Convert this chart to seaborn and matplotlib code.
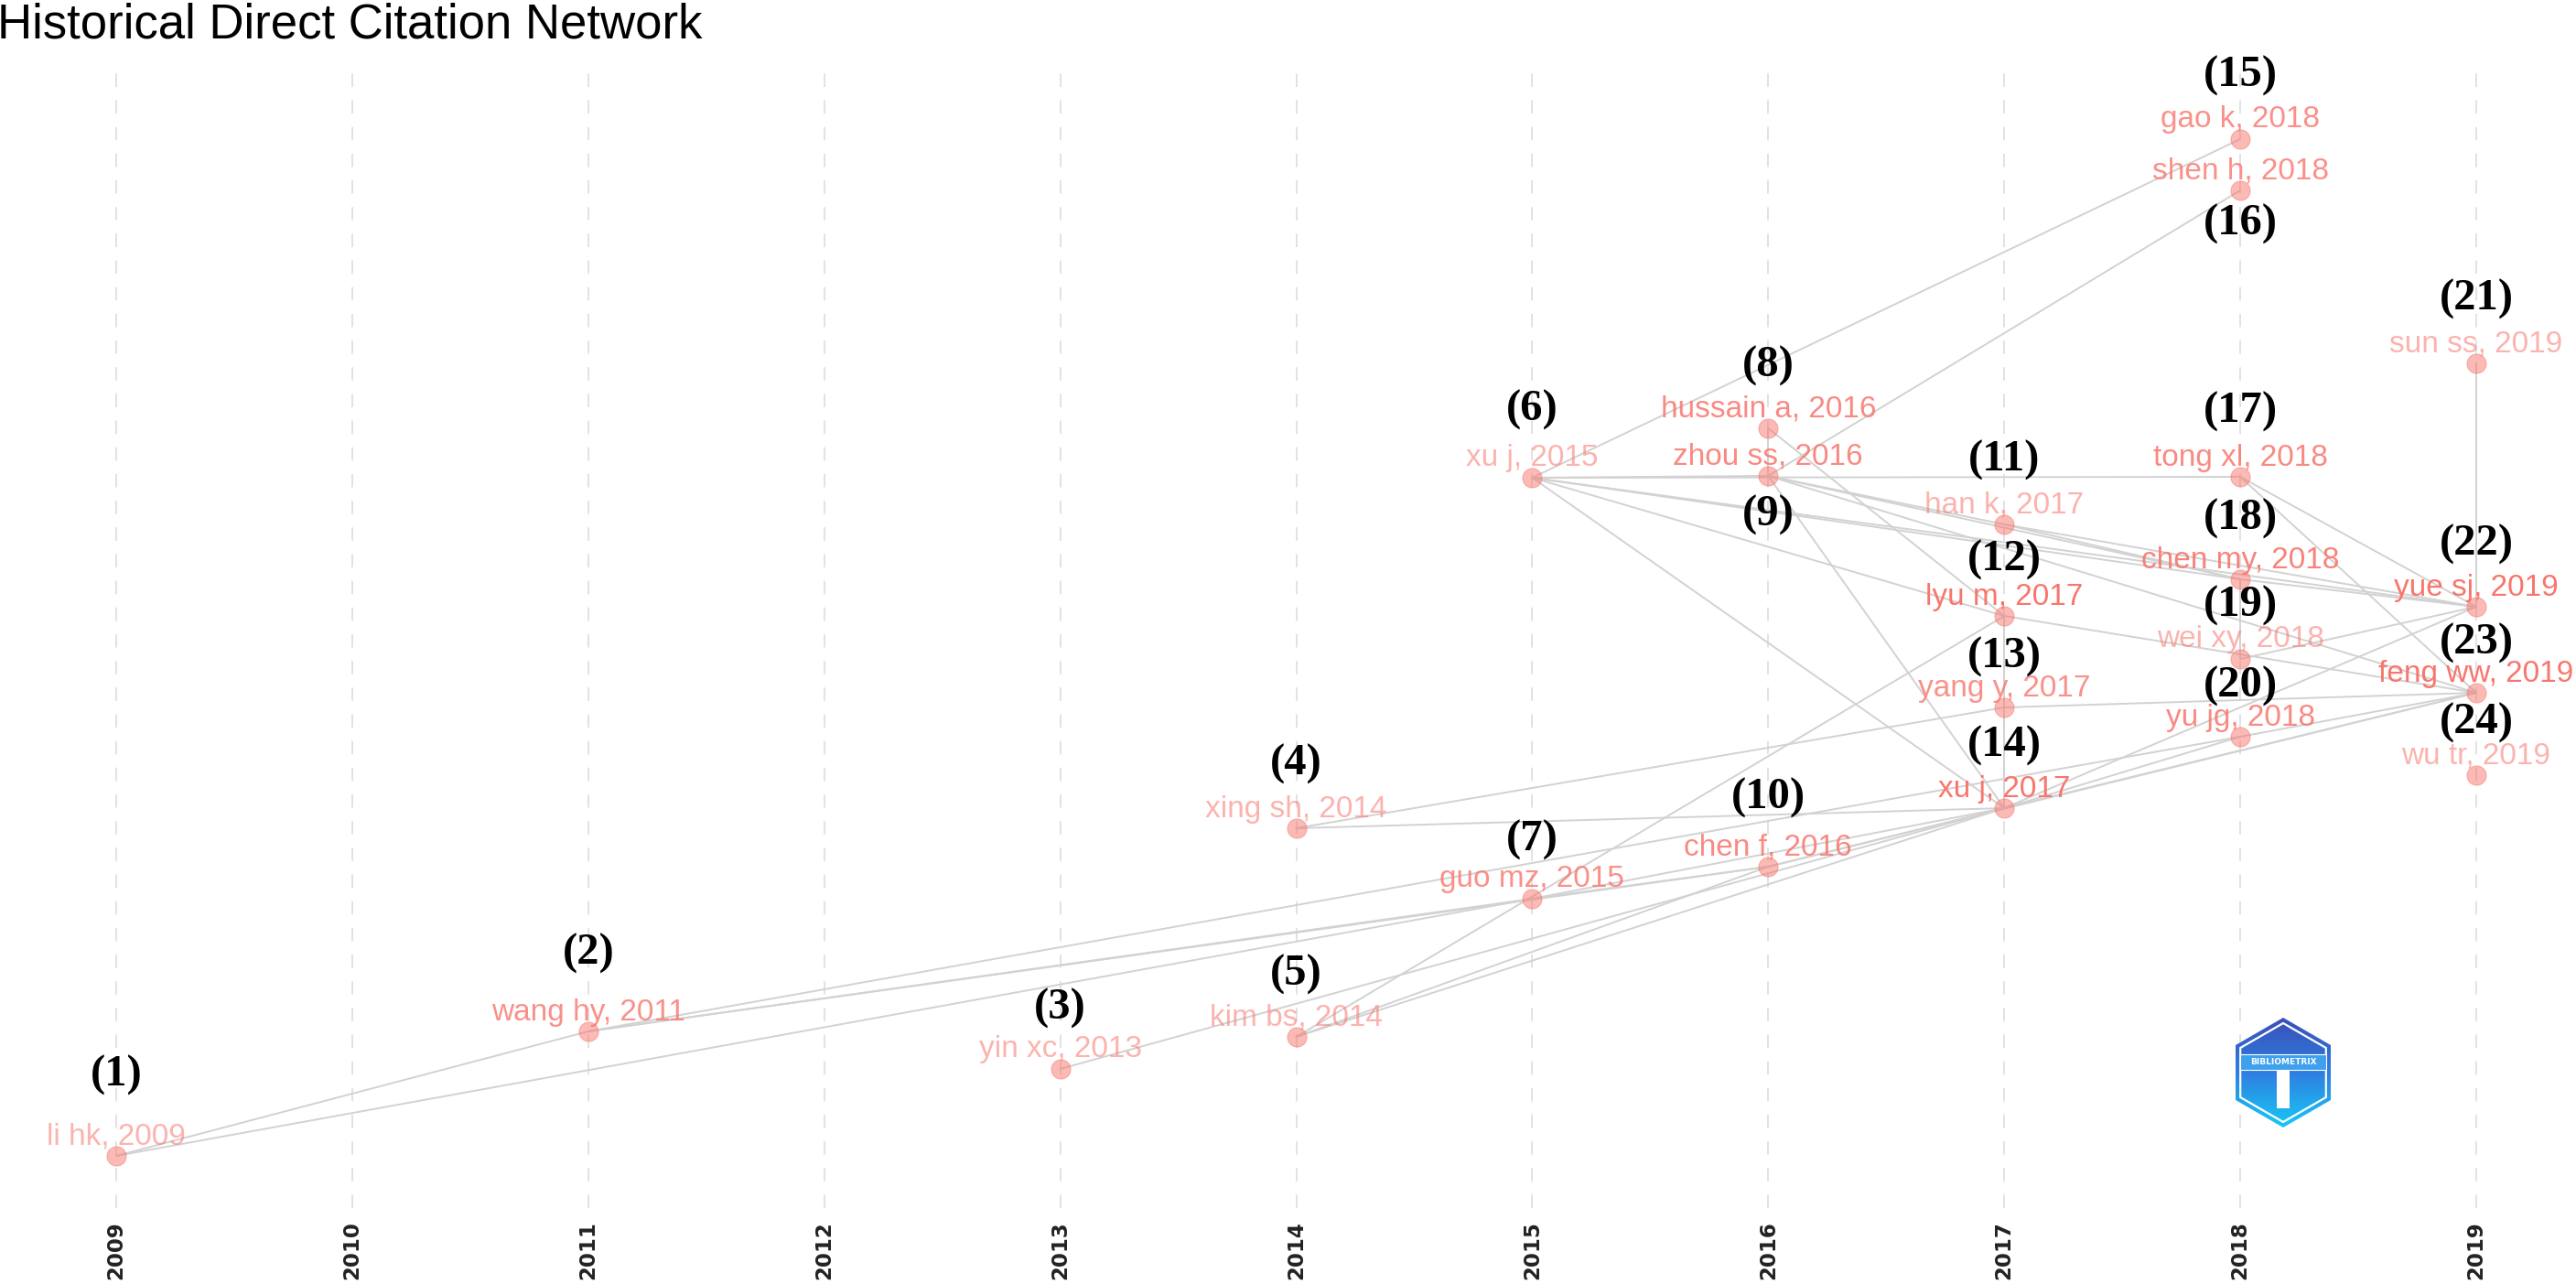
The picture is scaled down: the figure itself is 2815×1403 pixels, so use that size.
import numpy as np
import pandas as pd
import matplotlib
matplotlib.use('Agg')
import matplotlib.pyplot as plt
from matplotlib.colors import LinearSegmentedColormap
from matplotlib.patches import RegularPolygon
import seaborn as sns

authors = ['li hk', 'wang hy', 'yin xc', 'xing sh', 'kim bs', 'xu j', 'guo mz',
           'hussain a', 'zhou ss', 'chen f', 'han k', 'lyu m', 'yang y', 'xu j',
           'gao k', 'shen h', 'tong xl', 'chen my', 'wei xy', 'yu jg',
           'sun ss', 'yue sj', 'feng ww', 'wu tr']
years = [2009, 2011, 2013, 2014, 2014, 2015, 2015, 2016, 2016, 2016,
         2017, 2017, 2017, 2017, 2018, 2018, 2018, 2018, 2018, 2018,
         2019, 2019, 2019, 2019]
# vertical layout position of each paper (grows downwards)
layout_y = [1263, 1127, 1168, 905, 1133, 522, 982, 468, 520, 947,
            573, 673, 773, 883, 152, 208, 521, 633, 720, 805,
            397, 663, 757, 847]
# where the "(n)" tags were placed by the label repel
number_y = [1175, 1042, 1102, 835, 1065, 448, 918, 400, 563, 872,
            503, 612, 718, 815, 83, 245, 450, 567, 662, 750,
            327, 595, 703, 790]
label_alpha = [0.55, 0.8, 0.55, 0.55, 0.55, 0.55, 0.8, 0.85, 0.85, 0.85,
               0.55, 1.0, 0.8, 1.0, 0.8, 0.8, 0.85, 0.9, 0.55, 0.85,
               0.55, 1.0, 1.0, 0.55]
# citation links (1-based node numbers)
edge_from = [1, 1, 2, 2, 2, 3, 4, 4, 5, 5, 5, 6, 6, 6, 6, 6, 6, 6,
             7, 7, 8, 8, 9, 9, 9, 9, 9, 10, 10, 11, 11, 12, 12, 13, 13,
             14, 14, 14, 17, 17, 18, 18, 19, 20, 21]
edge_to = [2, 7, 10, 7, 20, 14, 13, 14, 10, 12, 14, 12, 14, 15, 17, 18, 22, 9,
           10, 14, 9, 12, 11, 14, 16, 18, 23, 14, 23, 18, 22, 13, 23, 14, 23,
           20, 22, 23, 22, 23, 19, 22, 22, 23, 22]
year_ticks = list(range(2009, 2020))

nodes = pd.DataFrame({'year': years, 'y': layout_y})
rows = []
for k, (a, b) in enumerate(zip(edge_from, edge_to)):
    rows.append({'edge': k, 'year': years[a - 1], 'y': layout_y[a - 1]})
    rows.append({'edge': k, 'year': years[b - 1], 'y': layout_y[b - 1]})
edges = pd.DataFrame(rows)

sns.set_theme(style='white')
plt.rcParams['font.family'] = ['Liberation Sans', 'DejaVu Sans']

W, H = 2815, 1403
fig = plt.figure(figsize=(W / 100, H / 100), dpi=100)
ax = fig.add_axes([0, 1 - 1320 / H, 1, (1320 - 72) / H])

ax.set_xlim(2009 - 127 / 257.9, 2019 + 109 / 257.9)
ax.set_ylim(1320, 72)

ax.set_xticks(year_ticks)
ax.set_xticklabels([str(y) for y in year_ticks], rotation=90, fontweight='bold',
                   fontsize=16.5, family='DejaVu Sans', color='#222222')
ax.tick_params(axis='x', length=0, pad=10)
ax.set_yticks([])
ax.xaxis.grid(True, color='#e2e2e2', linewidth=1.4, linestyle=(0, (7.5, 7.5)))
ax.yaxis.grid(False)
for s in ax.spines.values():
    s.set_visible(False)
ax.set_axisbelow(True)

sns.lineplot(data=edges, x='year', y='y', units='edge', estimator=None, sort=False,
             color='#d2d2d2', linewidth=1.4, ax=ax, legend=False)
sns.scatterplot(data=nodes, x='year', y='y', color='#F8766D', alpha=0.5, s=230,
                edgecolor='#F8766D', linewidth=0.8, ax=ax, legend=False, zorder=3)

for i in range(len(authors)):
    ax.text(years[i], layout_y[i] - 21, f'{authors[i]}, {years[i]}', color='#F8766D',
            alpha=label_alpha[i], fontsize=24, ha='center', va='center', zorder=4)
    ax.text(years[i], number_y[i], f'({i + 1})', color='black', fontsize=35,
            family='Liberation Serif', fontweight='bold', ha='center', va='center', zorder=4)

ax.set_xlabel('')
ax.set_ylabel('')

fig.text(-3 / W, 1 - 41 / H, 'Historical Direct Citation Network', fontsize=38,
         ha='left', va='baseline', color='black')

# bibliometrix badge
lx, ly, lw, lh = 2495, 1172, 104, 120
lax = fig.add_axes([(lx - lw / 2) / W, 1 - (ly + lh / 2) / H, lw / W, lh / H])
lax.set_xlim(-0.866, 0.866)
lax.set_ylim(-1, 1)
lax.axis('off')
cmap = LinearSegmentedColormap.from_list('badge', ['#3a4fb8', '#2f7fe0', '#18c8f6'])
grad = np.linspace(0, 1, 200).reshape(-1, 1)
outer = RegularPolygon((0, 0), 6, radius=1.0, orientation=0, facecolor='none', edgecolor='none')
lax.add_patch(outer)
im = lax.imshow(grad, cmap=cmap, extent=(-0.866, 0.866, -1, 1), origin='upper', aspect='auto')
im.set_clip_path(outer)
lax.add_patch(RegularPolygon((0, 0), 6, radius=0.9, orientation=0, facecolor='none',
                             edgecolor='white', linewidth=1.6))
lax.add_patch(plt.Rectangle((-0.78, 0.05), 1.56, 0.28, facecolor='#3fa0ee', edgecolor='white',
                            linewidth=0.8))
lax.text(0, 0.19, 'BIBLIOMETRIX', color='white', fontsize=6.5, fontweight='bold',
         ha='center', va='center', family='DejaVu Sans')
lax.add_patch(plt.Rectangle((-0.12, -0.65), 0.24, 0.7, facecolor='white', edgecolor='none'))

fig.savefig('out.png', dpi=100)
